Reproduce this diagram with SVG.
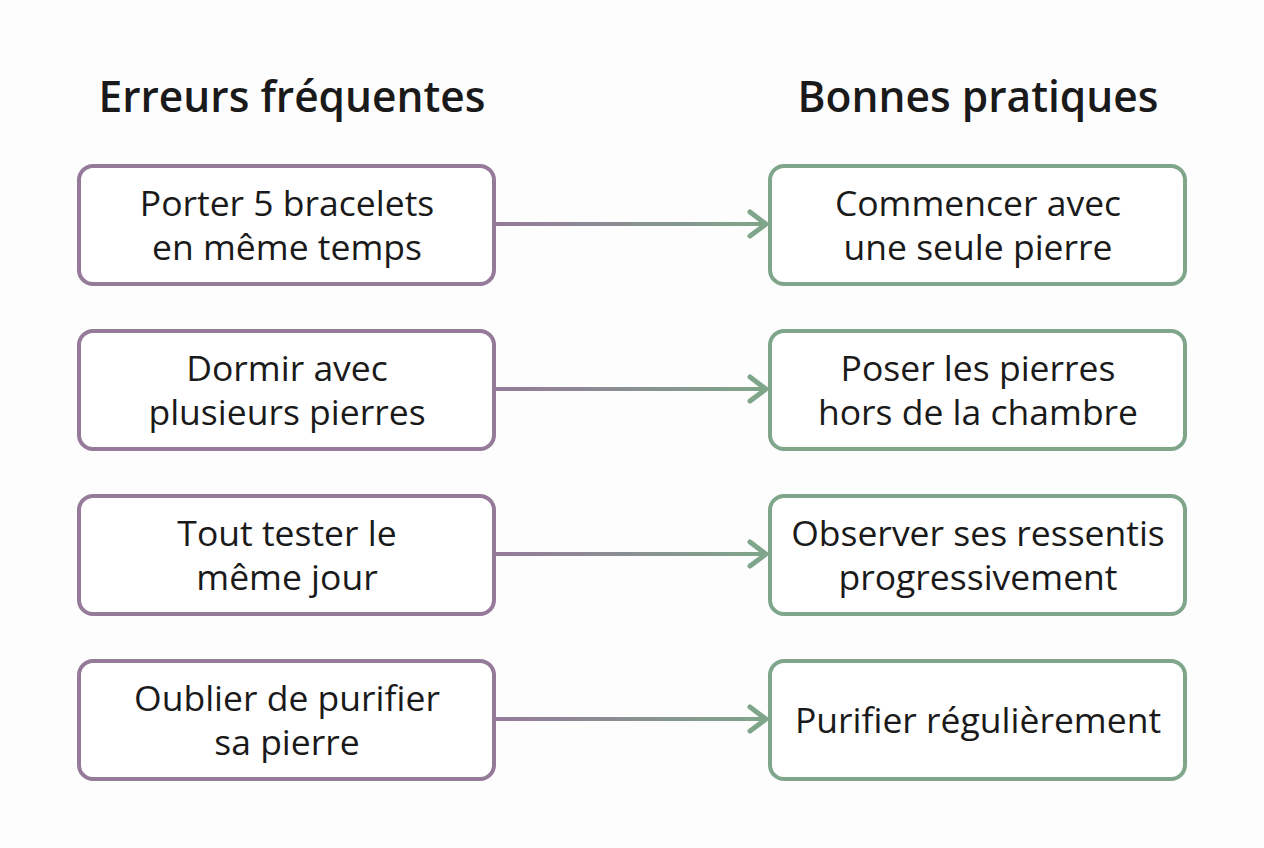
<svg xmlns="http://www.w3.org/2000/svg" width="1264" height="848" viewBox="0 0 1264 848">
<style>
.t{font-family:"Open Sans","Noto Sans",sans-serif;font-size:35.5px;fill:#1a1a1a;text-anchor:middle}
.h{font-family:"Open Sans","Noto Sans",sans-serif;font-size:42.5px;font-weight:600;fill:#1a1a1a;text-anchor:middle}
.l{fill:#fff;stroke:#957a9a;stroke-width:4}
.r{fill:#fff;stroke:#7fa68a;stroke-width:4}
.c{stroke:url(#g);stroke-width:4;fill:none}
.a{stroke:#7fa68a;stroke-width:5;fill:none;stroke-linecap:round;stroke-linejoin:round}
</style>
<defs><linearGradient id="g" gradientUnits="userSpaceOnUse" x1="494" y1="0" x2="768" y2="0"><stop offset="0" stop-color="#957a9a"/><stop offset="1" stop-color="#7fa68a"/></linearGradient></defs>
<rect width="1264" height="848" fill="#fdfdfd"/>
<text class="h" x="292" y="112">Erreurs fréquentes</text>
<text class="h" x="978" y="112">Bonnes pratiques</text>
<g id="connectors">
<path class="c" d="M496 224H764"/><path class="a" d="M750 212L766 224L750 236"/>
<path class="c" d="M496 389H764"/><path class="a" d="M750 377L766 389L750 401"/>
<path class="c" d="M496 554H764"/><path class="a" d="M750 542L766 554L750 566"/>
<path class="c" d="M496 719H764"/><path class="a" d="M750 707L766 719L750 731"/>
</g>
<g id="l1"><rect class="l" x="79" y="166" width="415" height="118" rx="14"/><text class="t" x="287" y="216">Porter 5 bracelets</text><text class="t" x="287" y="260">en même temps</text></g>
<g id="l2"><rect class="l" x="79" y="331" width="415" height="118" rx="14"/><text class="t" x="287" y="381">Dormir avec</text><text class="t" x="287" y="425">plusieurs pierres</text></g>
<g id="l3"><rect class="l" x="79" y="496" width="415" height="118" rx="14"/><text class="t" x="287" y="546">Tout tester le</text><text class="t" x="287" y="590">même jour</text></g>
<g id="l4"><rect class="l" x="79" y="661" width="415" height="118" rx="14"/><text class="t" x="287" y="711">Oublier de purifier</text><text class="t" x="287" y="755">sa pierre</text></g>
<g id="r1"><rect class="r" x="770" y="166" width="415" height="118" rx="14"/><text class="t" x="978" y="216">Commencer avec</text><text class="t" x="978" y="260">une seule pierre</text></g>
<g id="r2"><rect class="r" x="770" y="331" width="415" height="118" rx="14"/><text class="t" x="978" y="381">Poser les pierres</text><text class="t" x="978" y="425">hors de la chambre</text></g>
<g id="r3"><rect class="r" x="770" y="496" width="415" height="118" rx="14"/><text class="t" x="978" y="546">Observer ses ressentis</text><text class="t" x="978" y="590">progressivement</text></g>
<g id="r4"><rect class="r" x="770" y="661" width="415" height="118" rx="14"/><text class="t" x="978" y="733">Purifier régulièrement</text></g>
</svg>
